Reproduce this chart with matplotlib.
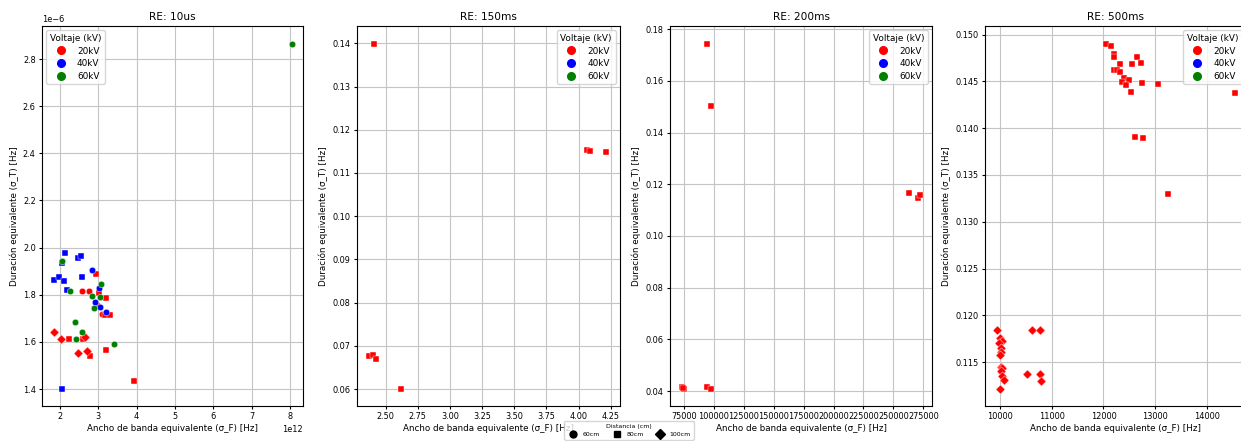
import matplotlib
matplotlib.use("Agg")
import matplotlib.pyplot as plt
from matplotlib.lines import Line2D

# ---- RE: 10us ----
re10_x = [2.13e12, 2.46e12, 2.54e12, 1.84e12, 1.98e12, 2.10e12, 2.57e12, 2.19e12, 2.04e12, 2.05e12,
          2.83e12, 3.03e12, 2.92e12, 3.05e12, 3.19e12,
          2.94e12, 3.03e12, 3.20e12, 3.17e12, 3.31e12, 2.23e12, 2.59e12, 2.77e12, 3.19e12, 3.94e12,
          2.58e12, 2.76e12, 2.96e12, 3.10e12, 2.62e12,
          1.84e12, 2.02e12, 2.64e12, 2.47e12, 2.70e12,
          2.05e12, 2.26e12, 3.06e12, 2.83e12, 3.05e12, 2.88e12, 2.38e12, 2.43e12, 2.57e12, 3.42e12, 8.04e12]
re10_y = [1.977e-6, 1.956e-6, 1.963e-6, 1.862e-6, 1.874e-6, 1.858e-6, 1.874e-6, 1.820e-6, 1.400e-6, 1.935e-6,
          1.906e-6, 1.830e-6, 1.770e-6, 1.748e-6, 1.725e-6,
          1.888e-6, 1.807e-6, 1.786e-6, 1.716e-6, 1.713e-6, 1.613e-6, 1.613e-6, 1.540e-6, 1.566e-6, 1.433e-6,
          1.816e-6, 1.816e-6, 1.755e-6, 1.720e-6, 1.618e-6,
          1.641e-6, 1.613e-6, 1.620e-6, 1.552e-6, 1.562e-6,
          1.945e-6, 1.814e-6, 1.847e-6, 1.793e-6, 1.790e-6, 1.742e-6, 1.684e-6, 1.611e-6, 1.644e-6, 1.592e-6, 2.864e-6]
re10_kv = [40] * 10 + [40] * 5 + [20] * 10 + [20] * 5 + [20] * 5 + [60] * 11
re10_cm = [80] * 10 + [60] * 5 + [80] * 10 + [60] * 5 + [100] * 5 + [60] * 11

# ---- RE: 150ms ----
re150_x = [2.412, 4.063, 4.089, 4.214, 2.373, 2.404, 2.422, 2.617]
re150_y = [0.1398, 0.1153, 0.1150, 0.1148, 0.0676, 0.0678, 0.0669, 0.0600]
re150_kv = [20] * 8
re150_cm = [80] * 8

# ---- RE: 200ms ----
re200_x = [94500, 97840, 262740, 270540, 272200, 73330, 75000, 74200, 94500, 97840]
re200_y = [0.1742, 0.1503, 0.1165, 0.1148, 0.1157, 0.0417, 0.0408, 0.0412, 0.0414, 0.0409]
re200_kv = [20] * 10
re200_cm = [80] * 10

# ---- RE: 500ms ----
re500_x = [12042, 12144, 12202, 12202, 12318, 12555, 12652, 12716, 12202, 12266, 12324,
           12401, 12485, 12350, 12427, 12523, 12748, 13043, 14533, 12613, 12761, 13236,
           9942, 10629, 10783, 10006, 10045, 9981, 10019, 10019, 10006, 10019, 10051, 10019,
           10533, 10770, 10039, 10083, 10803, 10006]
re500_y = [0.1490, 0.1488, 0.1479, 0.1476, 0.1469, 0.1469, 0.1476, 0.1470, 0.1462, 0.1462, 0.1460,
           0.1454, 0.1452, 0.1449, 0.1446, 0.1439, 0.1448, 0.1447, 0.1438, 0.1391, 0.1390, 0.1330,
           0.11845, 0.11838, 0.11838, 0.11756, 0.1172, 0.1170, 0.1165, 0.1161, 0.1157, 0.1145, 0.1144, 0.1140,
           0.11371, 0.11371, 0.1135, 0.1131, 0.1130, 0.1121]
re500_kv = [20] * 40
re500_cm = [80] * 22 + [100] * 18

panels = [
    ("RE: 10us", re10_x, re10_y, re10_kv, re10_cm),
    ("RE: 150ms", re150_x, re150_y, re150_kv, re150_cm),
    ("RE: 200ms", re200_x, re200_y, re200_kv, re200_cm),
    ("RE: 500ms", re500_x, re500_y, re500_kv, re500_cm),
]

voltages = [20, 40, 60]
voltage_labels = ["20kV", "40kV", "60kV"]
distances = [60, 80, 100]
distance_labels = ["60cm", "80cm", "100cm"]

colors = {20: "red", 40: "blue", 60: "green"}
markers = {60: "o", 80: "s", 100: "D"}

xlims = [(1.53e12, 8.34e12), (2.277, 4.322), (63300, 282270), (9717, 14746)]
ylims = [(1.328e-6, 2.94e-6), (0.0561, 0.1440), (0.0342, 0.1812), (0.1103, 0.15093)]
legend_locs = ["upper left", "upper right", "upper right", "upper right"]

fig = plt.figure(figsize=(12.41, 4.41), dpi=100)
rects = [
    (42 / 1241, 35 / 441, 261 / 1241, 380 / 441),
    (357 / 1241, 35 / 441, 263 / 1241, 380 / 441),
    (670 / 1241, 35 / 441, 262 / 1241, 380 / 441),
    (985 / 1241, 35 / 441, 261 / 1241, 380 / 441),
]

tick_fs = 5.9
label_fs = 6.3
title_fs = 7.6
legend_fs = 6.4

for (title, xs, ys, kvs, cms), rect, xl, yl, loc in zip(panels, rects, xlims, ylims, legend_locs):
    ax = fig.add_axes(rect)
    for kv in voltages:
        for cm in distances:
            px = [x for x, k, c in zip(xs, kvs, cms) if k == kv and c == cm]
            py = [y for y, k, c in zip(ys, kvs, cms) if k == kv and c == cm]
            if px:
                ax.scatter(px, py, s=22, marker=markers[cm], c=colors[kv],
                           edgecolors="white", linewidths=0.3, zorder=3)
    ax.set_xlim(*xl)
    ax.set_ylim(*yl)
    ax.grid(True, color="#c4c4c4", linewidth=0.8)
    ax.set_axisbelow(True)
    ax.set_title(title, fontsize=title_fs, pad=4)
    ax.set_xlabel("Ancho de banda equivalente (σ_F) [Hz]", fontsize=label_fs, labelpad=2)
    ax.set_ylabel("Duración equivalente (σ_T) [Hz]", fontsize=label_fs, labelpad=3)
    ax.tick_params(labelsize=tick_fs, length=2.5, pad=2)
    ax.xaxis.get_offset_text().set_fontsize(tick_fs)
    ax.yaxis.get_offset_text().set_fontsize(tick_fs)

    handles = [Line2D([], [], linestyle="none", marker="o", markersize=5.5,
                      markerfacecolor=colors[v], markeredgecolor=colors[v], label=lab)
               for v, lab in zip(voltages, voltage_labels)]
    ax.legend(handles=handles, title="Voltaje (kV)", loc=loc, fontsize=legend_fs,
              title_fontsize=legend_fs, borderpad=0.4, labelspacing=0.4,
              handletextpad=0.8, framealpha=0.8)

dist_handles = [Line2D([], [], linestyle="none", marker=markers[d], markersize=5,
                       markerfacecolor="black", markeredgecolor="black", label=lab)
                for d, lab in zip(distances, distance_labels)]
fig.legend(handles=dist_handles, title="Distancia (cm)", loc="upper center",
           bbox_to_anchor=(629 / 1241, 1 - 418 / 441), ncol=3, fontsize=4.5,
           title_fontsize=4.5, borderpad=0.4, handletextpad=0.5, columnspacing=1.7,
           framealpha=0.8)

fig.savefig("out.png", dpi=100)
